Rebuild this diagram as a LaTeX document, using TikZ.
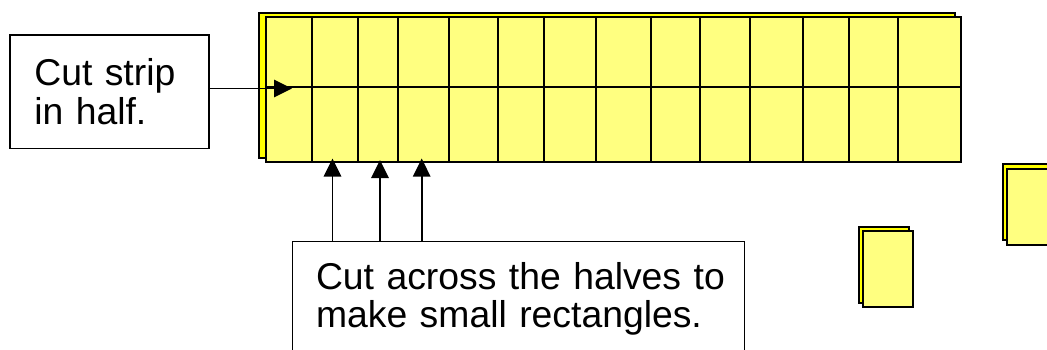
\documentclass[tikz,border=0pt]{standalone}
\usepackage{fontspec}
\setmainfont{Liberation Sans}
\usetikzlibrary{arrows.meta}

\tikzset{every picture/.style={line width=0.75pt}}

\begin{document}
\begin{tikzpicture}[x=0.75pt,y=0.75pt,yscale=-1,xscale=1,
	backsheet/.style={draw=black,line width=1.5pt,fill={rgb, 255:red, 255; green, 255; blue, 0 }},
	frontsheet/.style={draw=black,line width=1.5pt,fill={rgb, 255:red, 255; green, 255; blue, 128 }},
	cutline/.style={draw=black,line width=1.6pt},
	notebox/.style={draw=black,line width=1.1pt,fill=white,align=left,outer sep=0pt,font=\fontsize{28}{28.6}\selectfont},
	cutarrow/.style={draw=black,line width=1.25pt,-{Triangle[length=13.5pt,width=13pt]}}]
	%set diagram size 1047 x 350
	\clip (0,0) rectangle (1047,350);

	% long strip, two layers
	\draw [backsheet] (259,13.3) rectangle (955,158.3);
	\draw [frontsheet] (265.7,17.3) rectangle (961,161.7);
	\draw [cutline] (265.7,86.7) -- (961,86.7);
	\foreach \cx in {312.3,358.3,398.3,449,497.7,544,596.3,651,700,750.3,802.7,849,898}
		\draw [cutline] (\cx,17.3) -- (\cx,161.7);

	% small rectangles
	\draw [backsheet] (859,226.7) rectangle (909,303.3);
	\draw [frontsheet] (863.3,231) rectangle (912.7,307.3);
	\draw [backsheet] (1002.7,164) rectangle (1052.7,240.3);
	\draw [frontsheet] (1007,169) rectangle (1057,244.7);

	% notes
	\node (cutbox) [notebox,anchor=north west,minimum width=149.25pt,minimum height=85pt,inner xsep=18.2pt,text width=112.8pt] at (10,35) {Cut strip\\in half.};
	\node (acrossbox) [notebox,anchor=north west,inner xsep=17.8pt,inner ysep=15.8pt,text width=303.5pt] at (292.3,241.7) {Cut~across~the~halves~to\\make~small~rectangles.};

	% arrows
	\coordinate (halfcut) at (292,88.5);
	\coordinate (across1) at (332.5,158.5);
	\coordinate (across2) at (380,160);
	\coordinate (across3) at (421.7,158.5);
	\draw [cutarrow] (cutbox.east |- halfcut) -- (halfcut);
	\foreach \ca in {across1,across2,across3}
		\draw [cutarrow] (acrossbox.north -| \ca) -- (\ca);

\end{tikzpicture}
\end{document}
